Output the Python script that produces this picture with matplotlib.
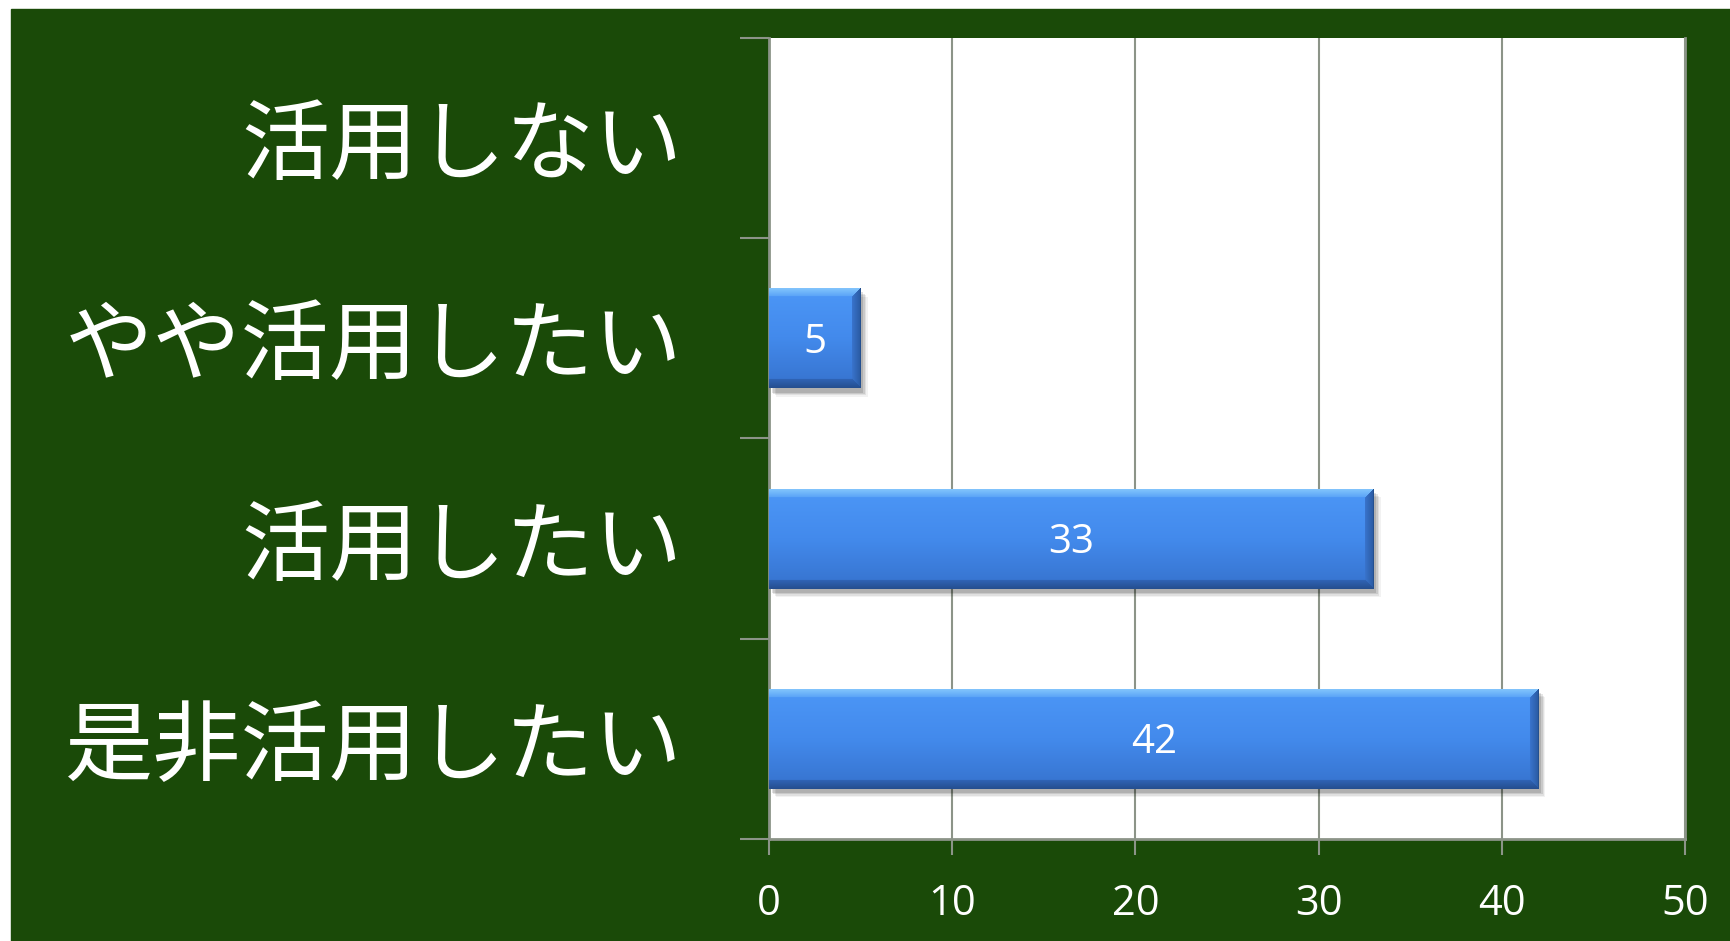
import numpy as np
import matplotlib
matplotlib.use("Agg")
import matplotlib.pyplot as plt
from matplotlib.patches import Rectangle
from matplotlib.colors import to_rgb
import matplotlib.patheffects as pe

# Survey responses (bottom to top)
categories = ["是非活用したい", "活用したい", "やや活用したい", "活用しない"]
counts = [42, 33, 5, 0]
x_ticks = [0, 10, 20, 30, 40, 50]

GREEN = "#1a4a08"
GRID = "#8c9488"

W, H, DPI = 1731, 941, 100
fig = plt.figure(figsize=(W / DPI, H / DPI), dpi=DPI, facecolor="white")
fig.patches.append(Rectangle((11 / W, 0), 1 - 11 / W, 1 - 9 / H,
                             transform=fig.transFigure, color=GREEN, zorder=-10))

ax = fig.add_axes([769 / W, 102 / H, 916 / W, 801 / H])
ax.set_zorder(1)
ax.set_facecolor("white")
ax.set_xlim(0, 50)
ax.set_ylim(-0.5, len(categories) - 0.5)
ax.set_axisbelow(True)

# spines
ax.spines["top"].set_visible(False)
for s in ("left", "bottom", "right"):
    ax.spines[s].set_color(GRID)
    ax.spines[s].set_linewidth(2)

# x axis
ax.set_xticks(x_ticks)
ax.set_xticklabels([str(t) for t in x_ticks])
ax.tick_params(axis="x", direction="out", length=11.5, width=1.5, color=GRID,
               labelcolor="white", labelsize=30, pad=20)
for lab in ax.get_xticklabels():
    lab.set_fontfamily(["Open Sans", "DejaVu Sans"])
ax.xaxis.grid(True, color=GRID, linewidth=1.5)

# y axis: tick marks at category boundaries, labels at category centres
ypos = np.arange(len(categories))
ax.set_yticks(np.arange(-0.5, len(categories), 1.0))
ax.set_yticklabels([])
ax.set_yticks(ypos, minor=True)
ax.set_yticklabels(categories, minor=True)
ax.tick_params(axis="y", which="major", direction="out", length=21, width=1.5, color=GRID)
ax.tick_params(axis="y", which="minor", length=0, labelcolor="white", labelsize=63.5, pad=62)
for lab in ax.get_yticklabels(minor=True):
    lab.set_fontfamily(["Noto Sans CJK JP", "DejaVu Sans"])
    lab.set_va("center_baseline")

# bevelled bar fill
px_per_unit = 916 / 50.0
bar_h = 0.5
bar_px_h = int(round(bar_h * 801 / len(categories)))


def lerp(c1, c2, t):
    c1, c2 = np.array(to_rgb(c1)), np.array(to_rgb(c2))
    return c1 + (c2 - c1) * t


def bar_image(w_px, h_px, bevel=9):
    rows = np.linspace(0, 1, h_px)
    col = np.zeros((h_px, 3))
    for i, t in enumerate(rows):
        if t < 0.5:
            col[i] = lerp("#4c97f7", "#438aec", t / 0.5)
        else:
            col[i] = lerp("#438aec", "#3672cd", (t - 0.5) / 0.5)
    img = np.repeat(col[:, None, :], w_px, axis=1)
    yy, xx = np.mgrid[0:h_px, 0:w_px]
    d_top = yy
    d_bot = h_px - 1 - yy
    d_right = w_px - 1 - xx
    m = np.minimum(np.minimum(d_top, d_bot), d_right)
    top = (d_top == m) & (m < bevel)
    bot = (d_bot == m) & (m < bevel) & ~top
    right = (d_right == m) & (m < bevel) & ~top & ~bot
    ft = (d_top / bevel)[..., None]
    img = np.where(top[..., None], np.array(to_rgb("#86c8fd")) * (1 - ft) + np.array(to_rgb("#58a2f7")) * ft, img)
    fb = (d_bot / bevel)[..., None]
    img = np.where(bot[..., None], np.array(to_rgb("#254f90")) * (1 - fb) + np.array(to_rgb("#3065b8")) * fb, img)
    fr = (d_right / bevel)[..., None]
    img = np.where(right[..., None], np.array(to_rgb("#2a5aa2")) * (1 - fr) + np.array(to_rgb("#3a76d0")) * fr, img)
    img[0, :] = to_rgb("#3a70c0")
    img[:, -1] = to_rgb("#24508f")
    return img


shadow = [pe.SimplePatchShadow(offset=(o, -o - 1), shadow_rgbFace="black", alpha=a)
          for o, a in ((5, 0.05), (4, 0.07), (3, 0.1), (2, 0.12))]

bars = ax.barh(ypos, counts, height=bar_h, color="#4189e6", linewidth=0, zorder=2)
for rect, v, y in zip(bars, counts, ypos):
    if v <= 0:
        continue
    rect.set_path_effects(shadow + [pe.Normal()])
    w_px = max(int(round(v * px_per_unit)), 2)
    im = ax.imshow(bar_image(w_px, bar_px_h), extent=(0, v, y - bar_h / 2, y + bar_h / 2),
                   aspect="auto", interpolation="bilinear", zorder=3, origin="upper")
    im.set_clip_path(rect)
    ax.text(v / 2, y - 0.02, str(v), ha="center", va="center", color="white", fontsize=29,
            family=["Open Sans", "DejaVu Sans"], zorder=4)

ax.set_xlim(0, 50)
ax.set_ylim(-0.5, len(categories) - 0.5)

fig.savefig("out.png", dpi=DPI, facecolor="white")
